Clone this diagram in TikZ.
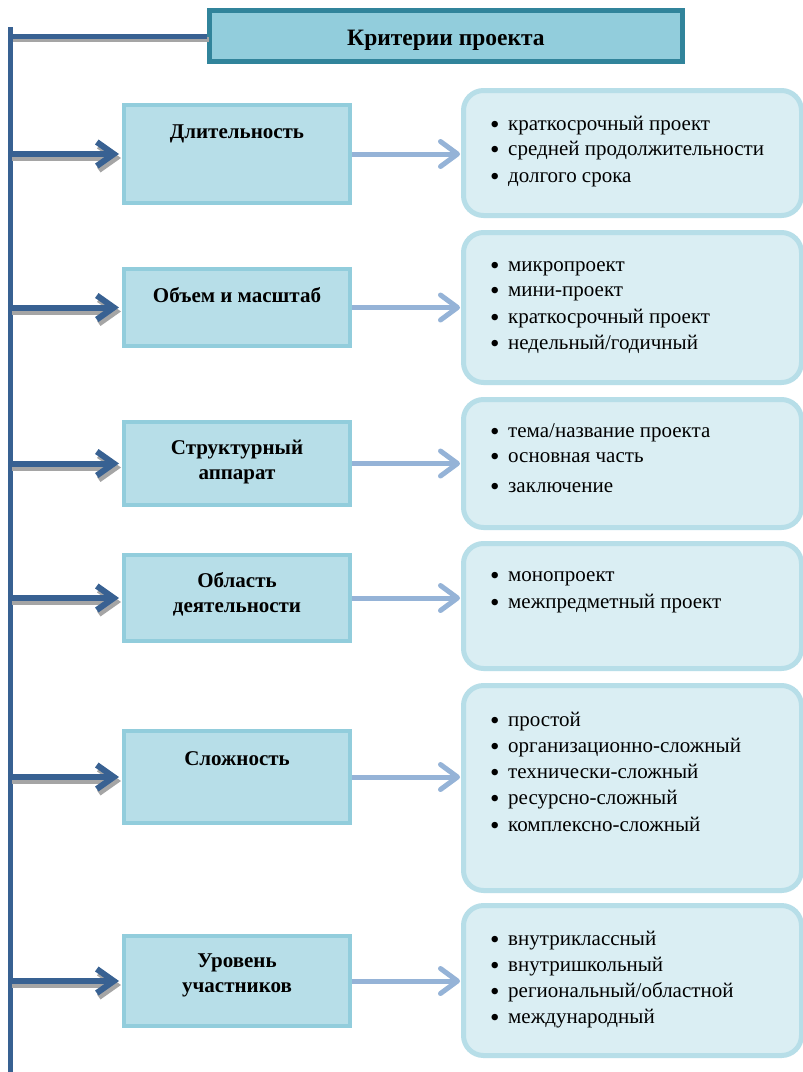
\documentclass[tikz,border=0pt]{standalone}
\usepackage{fontspec}
\setmainfont{Liberation Serif}
\usetikzlibrary{arrows.meta}
\definecolor{spineblue}{RGB}{56,97,146}
\definecolor{shadowgray}{RGB}{165,165,165}
\definecolor{rightarrow}{RGB}{149,179,215}
\definecolor{titleborder}{RGB}{49,132,155}
\definecolor{titlefill}{RGB}{146,205,220}
\definecolor{leftborder}{RGB}{146,205,220}
\definecolor{leftfill}{RGB}{183,222,232}
\definecolor{rightborder}{RGB}{183,222,232}
\definecolor{rightfill}{RGB}{218,238,243}
\newcommand{\bigbul}{\smash{\raisebox{-3.5pt}{\fontsize{27}{26}\selectfont\textbullet}}}
\begin{document}
\begin{tikzpicture}[x=1pt,y=-1pt,
  titlebox/.style={draw=titleborder, line width=5pt, fill=titlefill, minimum width=473pt, minimum height=51pt, inner sep=0pt},
  leftbox/.style={draw=leftborder, line width=4pt, fill=leftfill, minimum width=226pt, inner sep=0pt},
  rightbox/.style={draw=rightborder, line width=5pt, fill=rightfill, rounded corners=20pt, minimum width=338pt, inner sep=0pt},
  boldtext/.style={font=\fontsize{21}{25}\selectfont\bfseries, align=center, inner sep=0pt},
  titletextstyle/.style={font=\fontsize{23.5}{28}\selectfont\bfseries, inner sep=0pt},
  itemtext/.style={font=\fontsize{21}{26}\selectfont, inner sep=0pt, anchor=base west},
  spineline/.style={draw=spineblue, line width=5pt},
  shadowline/.style={draw=shadowgray, line width=5pt},
  leftarrow/.style={line width=6pt, -{Straight Barb[length=17pt,width=24pt]}, shorten >=3pt},
  rarrow/.style={draw=rightarrow, line width=5pt, -{Straight Barb[length=17pt,width=25pt,round]}, shorten >=1pt},
]
\useasboundingbox (0,0) rectangle (803,1072);
\fill[white] (0,0) rectangle (803,1072);

% title
\node[titlebox] (title) at (446,36) {};
\node[titletextstyle, anchor=base] (titletext) at (446,45) {Критерии проекта};

% spine
\coordinate (top) at (10,27);
\coordinate (bot) at (10,1072);
\draw[shadowline, transform canvas={shift={(2pt,-3pt)}}] (top |- title.west) -- (title.west);
\draw[spineline] (top |- title.west) -- (title.west);
\draw[spineline] (top) -- (bot);

% left boxes
\foreach \i/\cy/\h/\ty/\txt in {
  1/154/98/125/{Длительность},
  2/307.5/77/287/{Объем и масштаб},
  3/463.5/83/440/{Структурный\\аппарат},
  4/598/86/572/{Область\\деятельности},
  5/777/92/751/{Сложность},
  6/981/90/954/{Уровень\\участников}}{
  \node[leftbox, minimum height=\h pt] (L\i) at (237,\cy) {};
  \node[boldtext, anchor=north] (L\i t) at (237,\ty) {\txt};
}

% right boxes
\foreach \i/\cy/\h in {1/153/125, 2/307.5/150, 3/463.5/128, 4/606/125, 5/788/205, 6/980.5/150}{
  \node[rightbox, minimum height=\h pt] (R\i) at (632.5,\cy) {};
}

% items
\foreach \n/\y/\txt in {
  a1/123/{краткосрочный проект},
  a2/148/{средней продолжительности},
  a3/175/{долгого срока},
  b1/264/{микропроект},
  b2/289/{мини-проект},
  b3/316/{краткосрочный проект},
  b4/342/{недельный/годичный},
  c1/430/{тема/название проекта},
  c2/455/{основная часть},
  c3/485/{заключение},
  d1/574/{монопроект},
  d2/601/{межпредметный проект},
  e1/719/{простой},
  e2/745/{организационно-сложный},
  e3/771/{технически-сложный},
  e4/797/{ресурсно-сложный},
  e5/824/{комплексно-сложный},
  f1/938/{внутриклассный},
  f2/964/{внутришкольный},
  f3/990/{региональный/областной},
  f4/1016/{международный}}{
  \node[itemtext] (item\n) at (490,\y+7) {\makebox[18pt][l]{\bigbul}\txt};
}

% arrows
\foreach \i in {1,...,6}{
  \draw[leftarrow, draw=shadowgray, transform canvas={shift={(2pt,-4pt)}}] (L\i.west -| top) -- (L\i.west);
  \draw[leftarrow, draw=spineblue] (L\i.west -| top) -- (L\i.west);
  \draw[rarrow] (L\i.east) -- (L\i.east -| R\i.west);
}
\end{tikzpicture}
\end{document}
